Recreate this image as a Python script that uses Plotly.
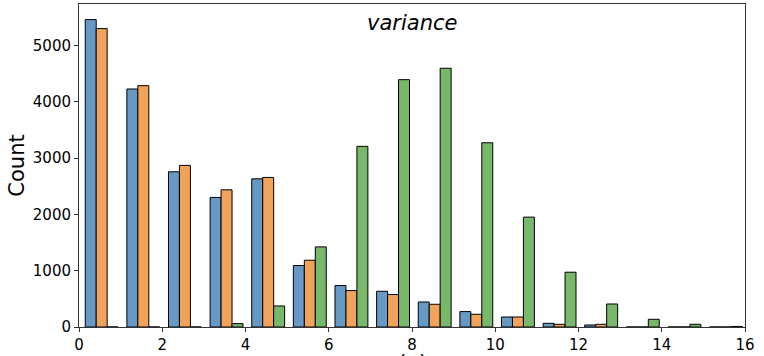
import plotly.graph_objects as go

bin_left = list(range(16))
blue = [5465, 4231, 2759, 2303, 2634, 1093, 737, 635, 445, 274, 178, 66, 36, 0, 0, 0]
orange = [5305, 4290, 2873, 2439, 2659, 1187, 648, 577, 404, 226, 178, 48, 48, 0, 0, 0]
green = [0, 0, 0, 60, 374, 1424, 3211, 4397, 4600, 3275, 1953, 974, 409, 137, 48, 10]
series_names = ["blue", "orange", "green"]
colors = ["#6699C6", "#F2A35B", "#78B86A"]

centers = [b + 0.545 for b in bin_left]

fig = go.Figure()
for name, vals, col in zip(series_names, [blue, orange, green], colors):
    fig.add_trace(go.Bar(x=centers, y=vals, name=name,
                         marker=dict(color=col, line=dict(color="black", width=1))))

fig.update_layout(
    width=764, height=356,
    margin=dict(l=79, r=19, t=4, b=29),
    barmode="group", bargap=0.21, bargroupgap=0,
    showlegend=False,
    plot_bgcolor="white", paper_bgcolor="white",
    font=dict(family="DejaVu Sans", color="black", size=15),
)
fig.update_xaxes(range=[0, 16], tickvals=[0, 2, 4, 6, 8, 10, 12, 14, 16],
                 showline=True, linecolor="#333", linewidth=1, mirror=True,
                 ticks="outside", ticklen=4, tickcolor="#333", showgrid=False, zeroline=False,
                 tickfont=dict(size=15), automargin=False)
fig.update_yaxes(range=[0, 5742], tickvals=[0, 1000, 2000, 3000, 4000, 5000],
                 showline=True, linecolor="#333", linewidth=1, mirror=True,
                 ticks="outside", ticklen=4, tickcolor="#333", showgrid=False, zeroline=False,
                 tickfont=dict(size=15), automargin=False,
                 title=dict(text="Count", font=dict(size=21), standoff=2))
fig.add_annotation(text="<i>variance</i>", xref="paper", yref="paper", x=0.5, y=0.985,
                   xanchor="center", yanchor="top", showarrow=False, font=dict(size=21))
fig.add_annotation(text="(a)", xref="paper", yref="paper", x=0.5, y=-0.068,
                   xanchor="center", yanchor="top", showarrow=False, font=dict(size=21))
fig.write_html("out.html", config={"displayModeBar": False},
               post_script="document.body.style.margin='0';")
